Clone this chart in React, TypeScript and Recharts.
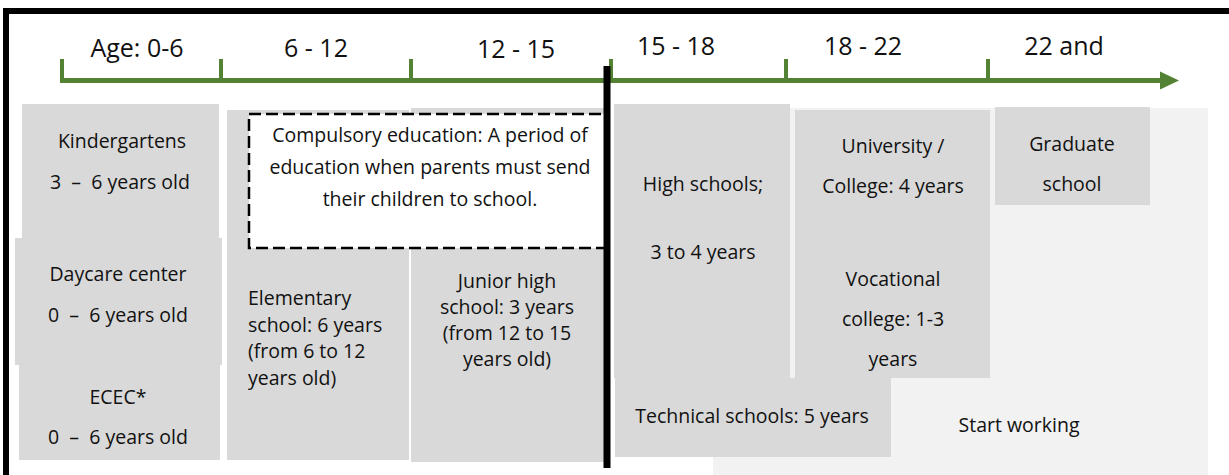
import { ComposedChart, XAxis, YAxis, ReferenceArea, ReferenceLine, Scatter } from "recharts";

// diagram coordinates: x runs left → right, y runs top → bottom (0..475)
const W = 1229;
const H = 475;

const FONT = '"Open Sans", "Noto Sans", sans-serif';
const GREEN = "#548235";
const BOX = "#d9d9d9";
const PANEL = "#f2f2f2";

// age boundaries on the timeline and the labels between them
const ageTicks = [62, 221, 411, 611, 786, 988];
const ageLabels = [
  { x: 137, y: 47, text: "Age: 0-6" },
  { x: 316, y: 47, text: "6 - 12" },
  { x: 516, y: 48, text: "12 - 15" },
  { x: 676, y: 45, text: "15 - 18" },
  { x: 863, y: 45, text: "18 - 22" },
  { x: 1064, y: 45, text: "22 and" },
];
const arrowTip = [{ x: 1179, y: 80.5 }];

// school blocks (x1..x2, y1..y2)
const panel = [{ x1: 713, x2: 1208, y1: 108, y2: 475 }];
const schools = [
  { name: "Kindergartens", x1: 22, x2: 219, y1: 104, y2: 240 },
  { name: "Daycare", x1: 15, x2: 222, y1: 238, y2: 365 },
  { name: "ECEC", x1: 19, x2: 220, y1: 365, y2: 460 },
  { name: "Elementary", x1: 227, x2: 409, y1: 110, y2: 460 },
  { name: "Junior high", x1: 411, x2: 608, y1: 108, y2: 462 },
  { name: "High schools", x1: 614, x2: 790, y1: 104, y2: 378 },
  { name: "Technical", x1: 615, x2: 891, y1: 378, y2: 457 },
  { name: "University", x1: 795, x2: 990, y1: 110, y2: 378 },
  { name: "Graduate", x1: 995, x2: 1150, y1: 107, y2: 205 },
];
const compulsory = [{ x1: 249, x2: 608, y1: 114, y2: 248 }];

const centerLabels = [
  { x: 122, y: 140, text: "Kindergartens" },
  { x: 120, y: 181, text: "3  –  6 years old" },
  { x: 430, y: 134, text: "Compulsory education: A period of" },
  { x: 430, y: 166, text: "education when parents must send" },
  { x: 430, y: 198, text: "their children to school." },
  { x: 118, y: 273, text: "Daycare center" },
  { x: 118, y: 314, text: "0  –  6 years old" },
  { x: 118, y: 396, text: "ECEC*" },
  { x: 118, y: 436, text: "0  –  6 years old" },
  { x: 507, y: 280, text: "Junior high" },
  { x: 507, y: 306, text: "school: 3 years" },
  { x: 507, y: 332, text: "(from 12 to 15" },
  { x: 507, y: 358, text: "years old)" },
  { x: 703, y: 183, text: "High schools;" },
  { x: 703, y: 251, text: "3 to 4 years" },
  { x: 893, y: 145, text: "University /" },
  { x: 893, y: 185, text: "College: 4 years" },
  { x: 893, y: 278, text: "Vocational" },
  { x: 893, y: 318, text: "college: 1-3" },
  { x: 893, y: 358, text: "years" },
  { x: 1072, y: 143, text: "Graduate" },
  { x: 1072, y: 183, text: "school" },
  { x: 752, y: 415, text: "Technical schools: 5 years" },
  { x: 1019, y: 424, text: "Start working" },
];
const leftLabels = [
  { x: 248, y: 297, text: "Elementary" },
  { x: 248, y: 324, text: "school: 6 years" },
  { x: 248, y: 350, text: "(from 6 to 12" },
  { x: 248, y: 377, text: "years old)" },
];

const makeText = (size: number, anchor: "start" | "middle") => (props: any) => {
  const { cx, cy, payload } = props;
  return (
    <text
      x={cx}
      y={cy}
      textAnchor={anchor}
      dominantBaseline="central"
      fontFamily={FONT}
      fontSize={size}
      fill="#111"
      style={{ whiteSpace: "pre" }}
    >
      {payload.text}
    </text>
  );
};

const Arrowhead = (props: any) => {
  const { cx, cy } = props;
  return <polygon points={`${cx},${cy} ${cx - 19},${cy - 9} ${cx - 19},${cy + 9}`} fill={GREEN} />;
};

export default function App() {
  return (
    <div style={{ width: W, height: H, background: "#fff" }}>
      <style>{`body{margin:0}`}</style>
      <ComposedChart width={W} height={H} margin={{ top: 0, right: 0, bottom: 0, left: 0 }}>
        <XAxis type="number" dataKey="x" domain={[0, W]} allowDataOverflow hide />
        <YAxis type="number" dataKey="y" domain={[0, H]} reversed allowDataOverflow hide />

        {panel.map((p, i) => (
          <ReferenceArea key={`p${i}`} x1={p.x1} x2={p.x2} y1={p.y1} y2={p.y2} fill={PANEL} fillOpacity={1} stroke="none" />
        ))}
        {schools.map((s) => (
          <ReferenceArea key={s.name} x1={s.x1} x2={s.x2} y1={s.y1} y2={s.y2} fill={BOX} fillOpacity={1} stroke="none" />
        ))}
        {compulsory.map((c, i) => (
          <ReferenceArea
            key={`c${i}`}
            x1={c.x1}
            x2={c.x2}
            y1={c.y1}
            y2={c.y2}
            fill="#fff"
            fillOpacity={1}
            stroke="#000"
            strokeWidth={2.5}
            strokeDasharray="12 5"
          />
        ))}

        {/* frame */}
        <ReferenceLine segment={[{ x: 3, y: 11 }, { x: W, y: 11 }]} stroke="#000" strokeWidth={6} />
        <ReferenceLine segment={[{ x: 6, y: 8 }, { x: 6, y: H }]} stroke="#000" strokeWidth={6} />

        {/* age timeline */}
        <ReferenceLine segment={[{ x: 60, y: 80.5 }, { x: 1163, y: 80.5 }]} stroke={GREEN} strokeWidth={5} />
        {ageTicks.map((t) => (
          <ReferenceLine key={t} segment={[{ x: t, y: 59 }, { x: t, y: 83 }]} stroke={GREEN} strokeWidth={4} />
        ))}

        {/* compulsory education boundary */}
        <ReferenceLine segment={[{ x: 607, y: 66 }, { x: 607, y: 468 }]} stroke="#000" strokeWidth={7} />

        <Scatter data={arrowTip} shape={Arrowhead} isAnimationActive={false} legendType="none" />
        <Scatter data={ageLabels} shape={makeText(25, "middle")} isAnimationActive={false} legendType="none" />
        <Scatter data={centerLabels} shape={makeText(19.5, "middle")} isAnimationActive={false} legendType="none" />
        <Scatter data={leftLabels} shape={makeText(19.5, "start")} isAnimationActive={false} legendType="none" />
      </ComposedChart>
    </div>
  );
}
